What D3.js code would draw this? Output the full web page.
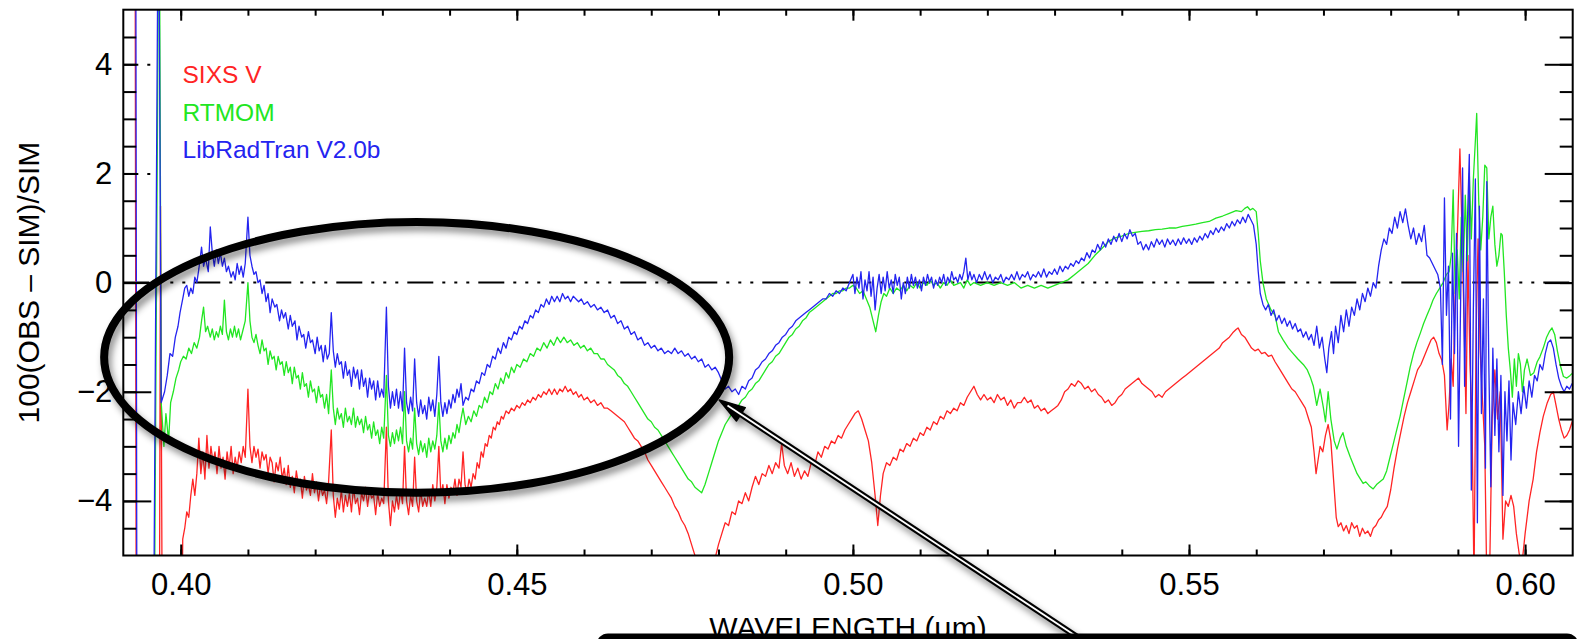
<!DOCTYPE html>
<html>
<head>
<meta charset="utf-8">
<script src="https://cdn.jsdelivr.net/npm/d3@7"></script>
<style>
  html, body { margin: 0; padding: 0; background: #fff; }
  svg { display: block; font-family: "Liberation Sans", Arial, Helvetica, sans-serif; }
</style>
</head>
<body>
<svg id="chart" width="1581" height="639"></svg>
<script>
// ---- axis ticks -------------------------------------------------------
const wavelengthTicks = [0.40, 0.45, 0.50, 0.55, 0.60];
const wavelengthMinorTicks = [0.40, 0.41, 0.42, 0.43, 0.44, 0.45, 0.46, 0.47, 0.48, 0.49, 0.50,
  0.51, 0.52, 0.53, 0.54, 0.55, 0.56, 0.57, 0.58, 0.59, 0.60];
const ratioTicks = [-4, -2, 0, 2, 4];
const ratioMinorTicks = [-4.5, -4, -3.5, -3, -2.5, -2, -1.5, -1, -0.5, 0, 0.5, 1, 1.5, 2, 2.5, 3, 3.5, 4, 4.5];

// ---- series: [wavelength (um), 100(OBS - SIM)/SIM] -------------------
const seriesNames = ["SIXS V", "RTMOM", "LibRadTran V2.0b"];

const sixsV = [
[0.3932,8],[0.3934,-8],[0.3968,-8],[0.3970,1.4],[0.3973,-8],[0.4001,-8],
[0.4003,-4.7],[0.4006,-4.5],[0.4009,-4.2],[0.4012,-4.3],[0.4015,-3.9],[0.4018,-3.6],[0.4021,-3.9],[0.4024,-3.5],[0.4027,-2.85],[0.4030,-3.5],
[0.4033,-3.1],[0.4036,-3.6],[0.4039,-2.8],[0.4042,-3.4],[0.4045,-3.0],[0.4048,-3.3],[0.4051,-3.1],[0.4054,-3.5],[0.4057,-3.0],[0.4060,-3.4],
[0.4063,-3.2],[0.4066,-3.6],[0.4069,-3.1],[0.4072,-3.4],[0.4075,-3.0],[0.4078,-3.5],[0.4081,-3.2],[0.4084,-3.4],[0.4087,-3.1],[0.4090,-3.3],
[0.4093,-3.0],[0.4096,-3.2],[0.4100,-1.95],[0.4103,-3.0],[0.4106,-3.3],[0.4109,-3.0],[0.4112,-3.2],[0.4115,-3.05],[0.4118,-3.4],[0.4121,-3.1],
[0.4124,-3.25],[0.4127,-3.15],[0.4130,-3.5],[0.4133,-3.2],[0.4136,-3.3],[0.4139,-3.65],[0.4142,-3.3],[0.4145,-3.45],[0.4148,-3.2],[0.4151,-3.6],
[0.4154,-3.4],[0.4157,-3.7],[0.4160,-3.35],[0.4163,-3.75],[0.4166,-3.55],[0.4169,-3.85],[0.4172,-3.45],[0.4175,-3.7],[0.4178,-3.6],[0.4181,-3.95],
[0.4184,-3.55],[0.4187,-3.8],[0.4190,-3.7],[0.4193,-3.9],[0.4196,-3.5],[0.4199,-3.85],[0.4202,-3.65],[0.4205,-4.0],[0.4208,-3.7],[0.4211,-3.9],
[0.4214,-3.8],[0.4217,-4.05],[0.4220,-3.65],[0.4224,-2.7],[0.4227,-3.9],[0.4230,-4.3],[0.4233,-3.95],[0.4236,-4.15],[0.4239,-3.8],[0.4242,-4.2],
[0.4245,-3.9],[0.4248,-4.1],[0.4251,-3.85],[0.4254,-4.2],[0.4257,-3.75],[0.4260,-4.05],[0.4263,-3.95],[0.4266,-4.25],[0.4269,-3.85],[0.4272,-4.0],
[0.4275,-3.75],[0.4278,-4.1],[0.4281,-3.8],[0.4284,-3.95],[0.4287,-3.9],[0.4290,-4.25],[0.4293,-3.85],[0.4296,-4.1],[0.4299,-3.95],[0.4302,-4.05],
[0.4306,-2.65],[0.4309,-4.0],[0.4312,-4.45],[0.4315,-4.0],[0.4318,-4.2],[0.4321,-3.9],[0.4324,-4.15],[0.4327,-3.8],[0.4330,-4.05],[0.4333,-3.0],
[0.4336,-4.0],[0.4339,-4.25],[0.4342,-3.9],[0.4345,-4.1],[0.4348,-3.2],[0.4351,-4.0],[0.4354,-4.2],[0.4357,-3.8],[0.4360,-4.1],[0.4363,-3.95],
[0.4366,-4.1],[0.4369,-3.8],[0.4372,-4.1],[0.4375,-3.7],[0.4378,-4.0],[0.4381,-3.75],[0.4384,-3.0],[0.4387,-3.9],[0.4390,-3.7],[0.4393,-4.05],
[0.4396,-3.7],[0.4399,-3.95],[0.4402,-3.75],[0.4405,-3.85],[0.4408,-3.6],[0.4411,-3.9],[0.4414,-3.6],[0.4417,-3.75],[0.4420,-3.1],[0.4423,-3.7],
[0.4426,-3.85],[0.4429,-3.6],[0.4432,-3.75],[0.4435,-3.5],[0.4438,-3.6],[0.4441,-3.3],[0.4444,-3.4],[0.4447,-3.1],[0.4450,-3.2],[0.4453,-2.95],
[0.4456,-3.0],[0.4459,-2.8],[0.4462,-2.85],[0.4465,-2.65],[0.4468,-2.7],[0.4471,-2.55],[0.4474,-2.6],[0.4477,-2.45],[0.4480,-2.5],[0.4484,-2.35],
[0.4488,-2.4],[0.4492,-2.3],[0.4496,-2.35],[0.4500,-2.25],[0.4504,-2.3],[0.4508,-2.2],[0.4512,-2.25],[0.4516,-2.15],[0.4520,-2.2],[0.4524,-2.1],
[0.4528,-2.15],[0.4532,-2.05],[0.4536,-2.1],[0.4540,-2.0],[0.4544,-2.05],[0.4548,-1.95],[0.4552,-2.05],[0.4556,-1.95],[0.4560,-2.05],[0.4564,-1.95],
[0.4568,-2.0],[0.4572,-1.9],[0.4576,-2.0],[0.4580,-1.95],[0.4584,-2.05],[0.4588,-2.0],[0.4592,-2.1],[0.4596,-2.05],[0.4600,-2.15],[0.4605,-2.1],
[0.4610,-2.2],[0.4615,-2.15],[0.4620,-2.25],[0.4625,-2.2],[0.4630,-2.3],[0.4635,-2.3],[0.4640,-2.35],[0.4645,-2.4],[0.4650,-2.45],[0.4655,-2.5],
[0.4660,-2.55],[0.4665,-2.65],[0.4670,-2.75],[0.4675,-2.85],[0.4680,-2.9],[0.4685,-3.0],[0.4690,-3.1],[0.4695,-3.25],[0.4700,-3.35],[0.4705,-3.45],
[0.4710,-3.55],[0.4715,-3.65],[0.4720,-3.75],[0.4725,-3.85],[0.4730,-3.95],[0.4735,-4.1],[0.4740,-4.2],[0.4745,-4.35],[0.4750,-4.45],[0.4755,-4.6],
[0.4760,-4.8],[0.4765,-5.0],[0.4770,-5.2],[0.4775,-5.35],[0.4780,-5.4],[0.4785,-5.35],[0.4790,-5.2],[0.4795,-5.05],[0.4800,-4.8],[0.4805,-4.6],
[0.4810,-4.4],[0.4815,-4.45],[0.4820,-4.2],[0.4825,-4.25],[0.4830,-4.0],[0.4835,-4.05],[0.4840,-3.85],[0.4845,-4.0],[0.4850,-3.75],[0.4855,-3.55],
[0.4860,-3.7],[0.4865,-3.5],[0.4870,-3.55],[0.4875,-3.35],[0.4880,-3.5],[0.4885,-3.3],[0.4890,-3.4],[0.4894,-2.95],[0.4898,-3.35],[0.4903,-3.5],
[0.4908,-3.3],[0.4913,-3.55],[0.4918,-3.4],[0.4923,-3.6],[0.4928,-3.45],[0.4933,-3.55],[0.4938,-3.3],[0.4943,-3.35],[0.4948,-3.1],[0.4953,-3.2],
[0.4958,-3.0],[0.4963,-3.05],[0.4968,-2.9],[0.4973,-2.95],[0.4978,-2.8],[0.4983,-2.85],[0.4988,-2.7],[0.4993,-2.6],[0.4998,-2.5],[0.5003,-2.4],
[0.5008,-2.35],[0.5013,-2.5],[0.5018,-2.7],[0.5023,-2.9],[0.5028,-3.3],[0.5033,-3.9],[0.5037,-4.45],[0.5041,-3.9],[0.5045,-3.5],[0.5050,-3.3],
[0.5055,-3.35],[0.5060,-3.2],[0.5065,-3.25],[0.5070,-3.05],[0.5075,-3.1],[0.5080,-2.95],[0.5085,-3.0],[0.5090,-2.85],[0.5095,-2.9],[0.5100,-2.75],
[0.5105,-2.8],[0.5110,-2.65],[0.5115,-2.7],[0.5120,-2.55],[0.5125,-2.6],[0.5130,-2.45],[0.5135,-2.5],[0.5140,-2.35],[0.5145,-2.4],[0.5150,-2.3],
[0.5155,-2.35],[0.5160,-2.2],[0.5165,-2.25],[0.5170,-2.1],[0.5175,-2.0],[0.5180,-1.9],[0.5185,-2.05],[0.5190,-2.15],[0.5195,-2.05],[0.5200,-2.15],
[0.5205,-2.1],[0.5210,-2.2],[0.5215,-2.05],[0.5220,-2.15],[0.5225,-2.1],[0.5230,-2.25],[0.5235,-2.15],[0.5240,-2.3],[0.5245,-2.2],[0.5250,-2.2],
[0.5255,-2.1],[0.5260,-2.2],[0.5265,-2.15],[0.5270,-2.3],[0.5275,-2.25],[0.5280,-2.35],[0.5285,-2.3],[0.5290,-2.4],[0.5295,-2.35],[0.5300,-2.3],
[0.5305,-2.25],[0.5310,-2.15],[0.5315,-2.0],[0.5320,-1.95],[0.5325,-1.85],[0.5330,-1.9],[0.5335,-1.8],[0.5340,-1.85],[0.5345,-1.95],[0.5350,-1.9],
[0.5355,-2.0],[0.5360,-1.95],[0.5365,-2.05],[0.5370,-2.1],[0.5375,-2.2],[0.5380,-2.15],[0.5385,-2.25],[0.5390,-2.2],[0.5395,-2.1],[0.5400,-2.05],
[0.5405,-1.95],[0.5410,-1.9],[0.5415,-1.85],[0.5420,-1.8],[0.5425,-1.75],[0.5430,-1.85],[0.5435,-1.9],[0.5440,-1.95],[0.5445,-2.0],[0.5450,-2.1],
[0.5455,-2.05],[0.5460,-2.1],[0.5465,-2.0],[0.5470,-1.95],[0.5475,-1.9],[0.5480,-1.85],[0.5485,-1.8],[0.5490,-1.75],[0.5495,-1.7],[0.5500,-1.65],
[0.5505,-1.6],[0.5510,-1.55],[0.5515,-1.5],[0.5520,-1.45],[0.5525,-1.4],[0.5530,-1.35],[0.5535,-1.3],[0.5540,-1.25],[0.5545,-1.2],[0.5550,-1.1],
[0.5555,-1.05],[0.5560,-1.0],[0.5565,-0.92],[0.5570,-0.86],[0.5573,-0.83],[0.5578,-0.95],[0.5583,-1.0],[0.5588,-1.1],[0.5593,-1.2],[0.5598,-1.25],
[0.5603,-1.22],[0.5608,-1.3],[0.5613,-1.28],[0.5618,-1.35],[0.5623,-1.33],[0.5628,-1.45],[0.5633,-1.55],[0.5638,-1.65],[0.5643,-1.75],[0.5648,-1.85],
[0.5653,-1.95],[0.5658,-2.0],[0.5663,-2.1],[0.5668,-2.2],[0.5673,-2.3],[0.5678,-2.5],[0.5682,-2.65],[0.5686,-3.1],[0.5689,-3.5],[0.5692,-3.25],
[0.5695,-3.0],[0.5699,-3.1],[0.5703,-2.8],[0.5707,-2.6],[0.5711,-2.9],[0.5715,-3.6],[0.5719,-4.3],[0.5722,-4.47],[0.5726,-4.4],[0.5730,-4.55],
[0.5734,-4.45],[0.5738,-4.6],[0.5742,-4.4],[0.5746,-4.5],[0.5750,-4.45],[0.5754,-4.65],[0.5758,-4.5],[0.5762,-4.6],[0.5766,-4.55],[0.5770,-4.65],
[0.5774,-4.5],[0.5778,-4.45],[0.5782,-4.35],[0.5786,-4.3],[0.5790,-4.2],[0.5795,-4.1],[0.5800,-3.8],[0.5805,-3.4],[0.5810,-3.05],[0.5815,-2.75],
[0.5820,-2.45],[0.5825,-2.2],[0.5830,-2.0],[0.5835,-1.8],[0.5840,-1.6],[0.5845,-1.5],[0.5850,-1.35],[0.5855,-1.2],[0.5860,-1.05],[0.5864,-1.0],
[0.5868,-1.1],[0.5872,-1.3],[0.5876,-1.42],[0.5880,-1.7],[0.5884,-2.7],[0.5887,-2.2],[0.5890,-1.4],[0.5893,-1.9],[0.5896,-0.2],[0.5899,0.8],
[0.5903,2.45],[0.5906,1.0],[0.5909,-0.6],[0.5912,-2.4],[0.5915,0.5],[0.5918,-1.5],[0.5921,-2.5],[0.5924,-5.5],[0.5927,-1.0],[0.5930,0.8],
[0.5933,-1.2],[0.5936,-2.0],[0.5940,-3.0],[0.5943,-5.5],[0.5947,-5.5],[0.5951,-2.5],[0.5955,-1.6],[0.5959,-2.5],[0.5963,-2.0],[0.5967,-4.7],
[0.5971,-4.0],[0.5975,-4.1],[0.5979,-3.9],[0.5983,-4.1],[0.5987,-4.6],[0.5991,-4.95],[0.5995,-5.2],[0.6000,-4.6],[0.6006,-4.0],[0.6012,-3.6],
[0.6017,-3.1],[0.6022,-2.75],[0.6027,-2.45],[0.6033,-2.2],[0.6038,-2.05],[0.6042,-2.0],[0.6046,-2.25],[0.6050,-2.5],[0.6054,-2.7],[0.6058,-2.85],
[0.6062,-2.8],[0.6066,-2.7],[0.6070,-2.55],[0.6074,-2.5]
];

const rtmom = [
[0.3935,-8],[0.3960,-8],[0.3968,8],[0.3971,-2.2],[0.3975,-3.0],[0.3978,-2.4],[0.3982,-2.9],[0.3985,-2.2],[0.3989,-2.0],[0.3993,-1.75],
[0.3997,-1.6],[0.4000,-1.45],[0.4004,-1.35],[0.4008,-1.4],[0.4012,-1.2],[0.4016,-1.3],[0.4020,-1.1],[0.4024,-1.2],[0.4028,-1.0],[0.4031,-0.7],
[0.4034,-0.45],[0.4037,-0.9],[0.4040,-0.8],[0.4044,-1.0],[0.4047,-0.85],[0.4050,-1.05],[0.4053,-0.9],[0.4056,-1.0],[0.4059,-0.8],[0.4062,-0.95],
[0.4065,-0.32],[0.4068,-0.9],[0.4071,-1.05],[0.4074,-0.85],[0.4077,-1.0],[0.4080,-0.8],[0.4083,-1.0],[0.4086,-0.85],[0.4089,-1.05],[0.4092,-0.9],
[0.4096,-0.7],[0.4100,0.0],[0.4103,-0.7],[0.4106,-1.0],[0.4109,-1.1],[0.4112,-0.95],[0.4115,-1.15],[0.4118,-1.3],[0.4121,-1.05],[0.4124,-1.25],
[0.4127,-1.2],[0.4130,-1.5],[0.4133,-1.25],[0.4136,-1.4],[0.4139,-1.35],[0.4142,-1.6],[0.4145,-1.35],[0.4148,-1.5],[0.4151,-1.45],[0.4154,-1.7],
[0.4157,-1.45],[0.4160,-1.65],[0.4163,-1.55],[0.4166,-1.85],[0.4169,-1.55],[0.4172,-1.75],[0.4175,-1.7],[0.4178,-1.95],[0.4181,-1.65],[0.4184,-1.9],
[0.4187,-1.85],[0.4190,-2.1],[0.4193,-1.8],[0.4196,-2.0],[0.4199,-1.95],[0.4202,-2.2],[0.4205,-1.9],[0.4208,-2.1],[0.4211,-2.05],[0.4214,-2.3],
[0.4217,-2.05],[0.4220,-2.4],[0.4224,-1.6],[0.4227,-2.3],[0.4230,-2.6],[0.4233,-2.3],[0.4236,-2.5],[0.4239,-2.4],[0.4242,-2.65],[0.4245,-2.3],
[0.4248,-2.55],[0.4251,-2.45],[0.4254,-2.6],[0.4257,-2.3],[0.4260,-2.65],[0.4263,-2.45],[0.4266,-2.6],[0.4269,-2.5],[0.4272,-2.75],[0.4275,-2.45],
[0.4278,-2.7],[0.4281,-2.6],[0.4284,-2.85],[0.4287,-2.55],[0.4290,-2.8],[0.4293,-2.7],[0.4296,-2.95],[0.4299,-2.65],[0.4302,-2.85],[0.4306,-1.7],
[0.4309,-2.8],[0.4312,-3.0],[0.4315,-2.75],[0.4318,-2.95],[0.4321,-2.7],[0.4324,-2.9],[0.4327,-2.65],[0.4330,-2.95],[0.4333,-2.0],[0.4336,-2.9],
[0.4339,-3.1],[0.4342,-2.85],[0.4345,-3.05],[0.4348,-2.3],[0.4351,-2.95],[0.4354,-3.15],[0.4357,-2.9],[0.4360,-3.1],[0.4363,-2.95],[0.4366,-3.2],
[0.4369,-2.85],[0.4372,-3.1],[0.4375,-2.9],[0.4378,-3.05],[0.4381,-2.8],[0.4384,-2.2],[0.4387,-2.9],[0.4390,-3.1],[0.4393,-2.85],[0.4396,-3.05],
[0.4399,-2.8],[0.4402,-2.95],[0.4405,-2.75],[0.4408,-2.85],[0.4411,-2.6],[0.4414,-2.75],[0.4417,-2.5],[0.4420,-2.3],[0.4424,-2.6],[0.4428,-2.45],
[0.4432,-2.55],[0.4436,-2.35],[0.4440,-2.45],[0.4444,-2.25],[0.4448,-2.3],[0.4452,-2.1],[0.4456,-2.2],[0.4460,-2.0],[0.4464,-2.05],[0.4468,-1.85],
[0.4472,-1.95],[0.4476,-1.75],[0.4480,-1.85],[0.4484,-1.65],[0.4488,-1.75],[0.4492,-1.55],[0.4496,-1.65],[0.4500,-1.5],[0.4505,-1.55],[0.4510,-1.4],
[0.4515,-1.45],[0.4520,-1.3],[0.4525,-1.35],[0.4530,-1.2],[0.4535,-1.25],[0.4540,-1.1],[0.4545,-1.2],[0.4550,-1.05],[0.4555,-1.15],[0.4560,-1.0],
[0.4565,-1.1],[0.4570,-1.0],[0.4575,-1.1],[0.4580,-1.05],[0.4585,-1.15],[0.4590,-1.1],[0.4595,-1.2],[0.4600,-1.15],[0.4605,-1.25],[0.4610,-1.2],
[0.4615,-1.3],[0.4620,-1.3],[0.4625,-1.4],[0.4630,-1.4],[0.4635,-1.5],[0.4640,-1.55],[0.4645,-1.6],[0.4650,-1.7],[0.4655,-1.75],[0.4660,-1.85],
[0.4665,-1.9],[0.4670,-2.0],[0.4675,-2.1],[0.4680,-2.2],[0.4685,-2.3],[0.4690,-2.4],[0.4695,-2.5],[0.4700,-2.55],[0.4705,-2.65],[0.4710,-2.7],
[0.4715,-2.8],[0.4720,-2.9],[0.4725,-3.0],[0.4730,-3.1],[0.4735,-3.2],[0.4740,-3.3],[0.4745,-3.4],[0.4750,-3.5],[0.4755,-3.6],[0.4760,-3.65],
[0.4765,-3.75],[0.4770,-3.8],[0.4775,-3.85],[0.4780,-3.7],[0.4785,-3.5],[0.4790,-3.3],[0.4795,-3.1],[0.4800,-2.9],[0.4805,-2.75],[0.4810,-2.6],
[0.4815,-2.5],[0.4820,-2.4],[0.4825,-2.3],[0.4830,-2.25],[0.4835,-2.15],[0.4840,-2.1],[0.4845,-2.0],[0.4850,-1.95],[0.4855,-1.85],[0.4860,-1.8],
[0.4865,-1.7],[0.4870,-1.6],[0.4875,-1.5],[0.4880,-1.45],[0.4885,-1.35],[0.4890,-1.3],[0.4895,-1.2],[0.4900,-1.1],[0.4905,-1.0],[0.4910,-0.95],
[0.4915,-0.85],[0.4920,-0.8],[0.4925,-0.7],[0.4930,-0.65],[0.4935,-0.55],[0.4940,-0.5],[0.4945,-0.45],[0.4950,-0.4],[0.4955,-0.35],[0.4960,-0.3],
[0.4965,-0.25],[0.4970,-0.2],[0.4975,-0.2],[0.4980,-0.15],[0.4985,-0.15],[0.4990,-0.1],[0.4995,-0.1],[0.5000,-0.05],[0.5005,-0.1],[0.5010,-0.2],
[0.5015,-0.15],[0.5020,-0.3],[0.5025,-0.45],[0.5030,-0.7],[0.5034,-0.9],[0.5038,-0.6],[0.5042,-0.35],[0.5046,-0.2],[0.5050,-0.25],[0.5055,-0.1],
[0.5060,-0.2],[0.5065,-0.1],[0.5070,-0.15],[0.5075,-0.05],[0.5080,-0.15],[0.5085,-0.05],[0.5090,-0.1],[0.5095,0.0],[0.5100,-0.1],[0.5105,0.0],
[0.5110,-0.05],[0.5115,0.05],[0.5120,-0.05],[0.5125,0.0],[0.5130,-0.1],[0.5135,0.0],[0.5140,-0.05],[0.5145,0.05],[0.5150,-0.05],[0.5160,0.0],
[0.5165,-0.1],[0.5170,0.05],[0.5175,-0.05],[0.5180,0.0],[0.5190,-0.05],[0.5200,0.0],[0.5210,-0.05],[0.5220,0.0],[0.5230,-0.05],[0.5240,0.0],
[0.5250,-0.1],[0.5260,-0.05],[0.5270,-0.1],[0.5280,-0.05],[0.5290,-0.1],[0.5300,-0.05],[0.5310,0.0],[0.5320,0.05],[0.5330,0.15],[0.5340,0.25],
[0.5350,0.35],[0.5360,0.5],[0.5370,0.62],[0.5380,0.75],[0.5390,0.82],[0.5400,0.85],[0.5410,0.9],[0.5420,0.92],[0.5430,0.94],[0.5440,0.95],
[0.5450,0.97],[0.5460,0.98],[0.5470,1.0],[0.5480,1.0],[0.5490,1.03],[0.5500,1.05],[0.5510,1.07],[0.5520,1.1],[0.5530,1.12],[0.5540,1.18],
[0.5550,1.22],[0.5560,1.27],[0.5570,1.32],[0.5578,1.3],[0.5583,1.36],[0.5587,1.39],[0.5591,1.33],[0.5595,1.36],[0.5600,1.3],[0.5603,0.9],
[0.5606,0.4],[0.5610,0.0],[0.5615,-0.3],[0.5622,-0.5],[0.5628,-0.6],[0.5633,-0.9],[0.5640,-1.05],[0.5648,-1.2],[0.5655,-1.3],[0.5662,-1.4],
[0.5670,-1.5],[0.5676,-1.6],[0.5681,-1.75],[0.5685,-1.9],[0.5690,-2.25],[0.5695,-1.95],[0.5700,-2.3],[0.5703,-2.55],[0.5707,-2.0],[0.5711,-2.5],
[0.5716,-2.9],[0.5720,-3.05],[0.5725,-2.85],[0.5729,-2.75],[0.5734,-3.0],[0.5740,-3.2],[0.5745,-3.35],[0.5750,-3.5],[0.5755,-3.6],[0.5759,-3.68],
[0.5763,-3.65],[0.5768,-3.72],[0.5774,-3.78],[0.5779,-3.7],[0.5784,-3.65],[0.5789,-3.6],[0.5794,-3.45],[0.5799,-3.2],[0.5804,-2.95],[0.5809,-2.7],
[0.5814,-2.45],[0.5819,-2.15],[0.5824,-1.85],[0.5829,-1.55],[0.5834,-1.3],[0.5839,-1.1],[0.5844,-0.93],[0.5849,-0.75],[0.5854,-0.6],[0.5859,-0.45],
[0.5863,-0.32],[0.5868,-0.2],[0.5873,-0.1],[0.5878,0.0],[0.5883,0.15],[0.5887,0.2],[0.5890,0.5],[0.5893,1.7],[0.5896,-0.2],[0.5899,0.6],
[0.5902,-0.3],[0.5905,1.2],[0.5908,0.2],[0.5911,1.6],[0.5914,0.4],[0.5917,2.0],[0.5920,0.8],[0.5923,1.9],[0.5926,2.6],[0.5928,3.1],
[0.5931,1.5],[0.5934,0.6],[0.5937,1.2],[0.5940,2.15],[0.5943,2.1],[0.5946,0.8],[0.5949,1.2],[0.5952,1.4],[0.5955,0.7],[0.5958,0.3],
[0.5961,0.5],[0.5964,0.9],[0.5966,0.87],[0.5969,0.2],[0.5972,-0.6],[0.5975,-1.2],[0.5978,-1.6],[0.5981,-2.1],[0.5984,-1.4],[0.5987,-1.9],
[0.5990,-1.3],[0.5993,-1.5],[0.5996,-2.0],[0.5999,-1.6],[0.6003,-1.4],[0.6008,-1.7],[0.6013,-1.65],[0.6018,-1.45],[0.6022,-1.36],[0.6027,-1.2],
[0.6032,-1.0],[0.6036,-0.9],[0.6040,-0.83],[0.6044,-0.95],[0.6048,-1.25],[0.6052,-1.5],[0.6057,-1.72],[0.6062,-1.75],[0.6067,-1.7],[0.6072,-1.64]
];

const libRadTran = [
[0.3933,8],[0.3935,-8],[0.3959,-8],[0.3967,8],[0.3971,-2.2],[0.3976,-2.0],[0.3980,-1.7],[0.3984,-1.3],[0.3988,-1.35],[0.3992,-1.0],
[0.3996,-0.8],[0.3999,-0.55],[0.4003,-0.3],[0.4006,-0.1],[0.4009,-0.05],[0.4012,-0.25],[0.4015,-0.1],[0.4018,-0.2],[0.4021,0.1],[0.4024,0.0],
[0.4027,0.25],[0.4031,0.65],[0.4034,0.3],[0.4037,0.45],[0.4041,0.2],[0.4044,1.02],[0.4047,0.55],[0.4050,0.3],[0.4053,0.6],[0.4056,0.35],
[0.4059,0.55],[0.4062,0.3],[0.4065,0.45],[0.4068,0.2],[0.4071,0.3],[0.4075,0.1],[0.4078,0.2],[0.4081,0.05],[0.4084,0.35],[0.4087,0.15],
[0.4090,0.3],[0.4093,0.1],[0.4096,0.35],[0.4100,1.2],[0.4103,0.5],[0.4106,0.3],[0.4109,0.15],[0.4112,0.2],[0.4115,0.0],[0.4118,0.05],
[0.4121,-0.2],[0.4124,-0.05],[0.4127,-0.35],[0.4130,-0.2],[0.4133,-0.55],[0.4136,-0.3],[0.4140,-0.45],[0.4143,-0.4],[0.4147,-0.7],[0.4150,-0.5],
[0.4153,-0.65],[0.4156,-0.55],[0.4160,-0.85],[0.4163,-0.6],[0.4166,-0.8],[0.4170,-0.7],[0.4173,-1.05],[0.4176,-0.8],[0.4180,-1.0],[0.4183,-0.95],
[0.4186,-1.2],[0.4190,-0.9],[0.4193,-1.1],[0.4196,-1.05],[0.4200,-1.3],[0.4203,-1.0],[0.4206,-1.25],[0.4209,-1.15],[0.4212,-1.45],[0.4215,-1.15],
[0.4218,-1.4],[0.4221,-1.3],[0.4224,-0.55],[0.4227,-1.25],[0.4230,-1.55],[0.4233,-1.3],[0.4236,-1.5],[0.4239,-1.45],[0.4242,-1.75],[0.4245,-1.45],
[0.4248,-1.7],[0.4251,-1.6],[0.4254,-1.9],[0.4257,-1.55],[0.4260,-1.75],[0.4263,-1.6],[0.4266,-1.95],[0.4269,-1.6],[0.4272,-1.9],[0.4275,-1.75],
[0.4278,-2.1],[0.4281,-1.75],[0.4284,-1.95],[0.4287,-1.8],[0.4290,-2.15],[0.4293,-1.8],[0.4296,-2.1],[0.4299,-1.95],[0.4302,-2.1],[0.4306,-0.45],
[0.4309,-1.9],[0.4312,-2.3],[0.4315,-2.0],[0.4318,-2.25],[0.4321,-1.95],[0.4324,-2.3],[0.4327,-2.0],[0.4330,-2.35],[0.4333,-1.2],[0.4336,-2.2],
[0.4339,-2.4],[0.4342,-2.1],[0.4345,-2.35],[0.4348,-1.4],[0.4351,-2.2],[0.4354,-2.45],[0.4357,-2.15],[0.4360,-2.4],[0.4363,-2.25],[0.4366,-2.5],
[0.4369,-2.1],[0.4372,-2.35],[0.4375,-2.15],[0.4378,-2.45],[0.4381,-2.05],[0.4384,-1.35],[0.4387,-2.2],[0.4390,-2.45],[0.4393,-2.2],[0.4396,-2.4],
[0.4399,-2.15],[0.4402,-2.3],[0.4405,-2.05],[0.4408,-2.2],[0.4411,-1.95],[0.4414,-2.1],[0.4417,-1.85],[0.4420,-2.25],[0.4424,-2.1],[0.4428,-2.15],
[0.4432,-1.95],[0.4436,-2.0],[0.4440,-1.8],[0.4444,-1.85],[0.4448,-1.65],[0.4452,-1.7],[0.4456,-1.5],[0.4460,-1.55],[0.4464,-1.35],[0.4468,-1.4],
[0.4472,-1.2],[0.4476,-1.3],[0.4480,-1.1],[0.4484,-1.2],[0.4488,-1.0],[0.4492,-1.05],[0.4496,-0.9],[0.4500,-0.95],[0.4504,-0.8],[0.4508,-0.85],
[0.4512,-0.7],[0.4516,-0.75],[0.4520,-0.6],[0.4524,-0.65],[0.4528,-0.5],[0.4532,-0.55],[0.4536,-0.4],[0.4540,-0.45],[0.4544,-0.3],[0.4548,-0.4],
[0.4552,-0.25],[0.4556,-0.35],[0.4560,-0.25],[0.4564,-0.35],[0.4568,-0.2],[0.4572,-0.3],[0.4576,-0.25],[0.4580,-0.35],[0.4584,-0.25],[0.4588,-0.3],
[0.4592,-0.35],[0.4596,-0.3],[0.4600,-0.4],[0.4605,-0.35],[0.4610,-0.45],[0.4615,-0.4],[0.4620,-0.5],[0.4625,-0.45],[0.4630,-0.55],[0.4635,-0.5],
[0.4640,-0.65],[0.4645,-0.6],[0.4650,-0.75],[0.4655,-0.7],[0.4660,-0.85],[0.4665,-0.8],[0.4670,-0.95],[0.4675,-0.9],[0.4680,-1.05],[0.4685,-1.0],
[0.4690,-1.15],[0.4695,-1.1],[0.4700,-1.2],[0.4705,-1.15],[0.4710,-1.25],[0.4715,-1.2],[0.4720,-1.3],[0.4725,-1.25],[0.4730,-1.3],[0.4735,-1.2],
[0.4740,-1.3],[0.4745,-1.25],[0.4750,-1.35],[0.4755,-1.3],[0.4760,-1.4],[0.4765,-1.35],[0.4770,-1.45],[0.4775,-1.4],[0.4780,-1.55],[0.4785,-1.5],
[0.4790,-1.6],[0.4795,-1.55],[0.4800,-1.65],[0.4805,-1.8],[0.4810,-1.95],[0.4815,-1.9],[0.4820,-2.0],[0.4825,-1.95],[0.4830,-2.05],[0.4835,-1.9],
[0.4840,-1.95],[0.4845,-1.8],[0.4850,-1.75],[0.4855,-1.6],[0.4860,-1.55],[0.4865,-1.45],[0.4870,-1.4],[0.4875,-1.3],[0.4880,-1.25],[0.4885,-1.15],
[0.4890,-1.1],[0.4895,-1.0],[0.4900,-0.95],[0.4905,-0.85],[0.4910,-0.8],[0.4915,-0.7],[0.4920,-0.65],[0.4925,-0.6],[0.4930,-0.55],[0.4935,-0.5],
[0.4940,-0.45],[0.4945,-0.4],[0.4950,-0.35],[0.4955,-0.3],[0.4960,-0.3],[0.4965,-0.2],[0.4970,-0.25],[0.4975,-0.15],[0.4980,-0.2],[0.4985,-0.1],
[0.4990,-0.15],[0.4995,0.0],[0.5000,0.15],[0.5003,-0.2],[0.5006,0.1],[0.5009,-0.1],[0.5012,0.2],[0.5015,-0.3],[0.5018,0.05],[0.5021,-0.15],
[0.5024,0.2],[0.5027,-0.25],[0.5030,0.1],[0.5033,-0.5],[0.5036,-0.1],[0.5039,0.15],[0.5042,-0.2],[0.5045,0.1],[0.5048,-0.15],[0.5051,0.2],
[0.5054,-0.1],[0.5057,0.05],[0.5060,-0.2],[0.5063,0.15],[0.5066,-0.05],[0.5069,0.1],[0.5072,-0.3],[0.5075,0.0],[0.5078,-0.2],[0.5081,0.1],
[0.5084,-0.1],[0.5087,0.15],[0.5090,-0.05],[0.5093,0.1],[0.5096,-0.1],[0.5099,0.05],[0.5102,-0.15],[0.5105,0.1],[0.5108,-0.05],[0.5111,0.15],
[0.5114,0.0],[0.5117,0.1],[0.5120,-0.1],[0.5123,0.05],[0.5126,-0.05],[0.5129,0.1],[0.5132,0.0],[0.5135,0.15],[0.5138,-0.05],[0.5141,0.1],
[0.5144,0.0],[0.5147,0.2],[0.5150,0.05],[0.5153,0.1],[0.5156,0.0],[0.5159,0.15],[0.5162,0.05],[0.5165,0.2],[0.5168,0.45],[0.5171,0.05],
[0.5174,0.2],[0.5177,0.05],[0.5180,0.15],[0.5184,0.0],[0.5188,0.15],[0.5192,0.05],[0.5196,0.2],[0.5200,0.05],[0.5204,0.15],[0.5208,0.0],
[0.5212,0.1],[0.5216,0.05],[0.5220,0.15],[0.5224,0.0],[0.5228,0.1],[0.5232,0.05],[0.5236,0.15],[0.5240,0.05],[0.5244,0.2],[0.5248,0.05],
[0.5252,0.15],[0.5256,0.1],[0.5260,0.2],[0.5264,0.05],[0.5268,0.15],[0.5272,0.1],[0.5276,0.2],[0.5280,0.1],[0.5284,0.25],[0.5288,0.1],
[0.5292,0.2],[0.5296,0.15],[0.5300,0.25],[0.5304,0.15],[0.5308,0.3],[0.5312,0.2],[0.5316,0.3],[0.5320,0.25],[0.5324,0.35],[0.5328,0.3],
[0.5332,0.4],[0.5336,0.35],[0.5340,0.45],[0.5344,0.4],[0.5348,0.55],[0.5352,0.45],[0.5356,0.6],[0.5360,0.55],[0.5364,0.7],[0.5368,0.6],
[0.5372,0.75],[0.5376,0.65],[0.5380,0.8],[0.5384,0.7],[0.5388,0.85],[0.5392,0.75],[0.5396,0.9],[0.5400,0.75],[0.5404,0.9],[0.5408,0.8],
[0.5412,0.97],[0.5416,0.85],[0.5420,0.9],[0.5424,0.7],[0.5428,0.75],[0.5432,0.6],[0.5436,0.7],[0.5440,0.6],[0.5444,0.75],[0.5448,0.65],
[0.5452,0.8],[0.5456,0.7],[0.5460,0.78],[0.5464,0.65],[0.5468,0.8],[0.5472,0.7],[0.5476,0.78],[0.5480,0.68],[0.5484,0.8],[0.5488,0.7],
[0.5492,0.82],[0.5496,0.72],[0.5500,0.8],[0.5504,0.7],[0.5508,0.82],[0.5512,0.74],[0.5516,0.85],[0.5520,0.78],[0.5524,0.9],[0.5528,0.82],
[0.5532,0.95],[0.5536,0.88],[0.5540,1.0],[0.5544,0.92],[0.5548,1.02],[0.5552,0.95],[0.5556,1.08],[0.5560,1.0],[0.5564,1.12],[0.5568,1.04],
[0.5572,1.15],[0.5576,1.08],[0.5580,1.2],[0.5584,1.1],[0.5588,1.25],[0.5592,1.15],[0.5596,1.05],[0.5600,0.7],[0.5603,0.2],[0.5606,-0.2],
[0.5610,-0.4],[0.5614,-0.5],[0.5618,-0.4],[0.5622,-0.6],[0.5626,-0.5],[0.5630,-0.7],[0.5634,-0.6],[0.5638,-0.75],[0.5642,-0.65],[0.5646,-0.8],
[0.5650,-0.7],[0.5654,-0.85],[0.5658,-0.75],[0.5662,-0.9],[0.5666,-0.85],[0.5670,-1.0],[0.5674,-0.9],[0.5678,-1.05],[0.5682,-0.95],[0.5686,-1.15],
[0.5690,-0.8],[0.5694,-1.2],[0.5698,-1.0],[0.5702,-1.4],[0.5705,-1.65],[0.5708,-1.2],[0.5712,-0.9],[0.5715,-1.3],[0.5718,-0.8],[0.5722,-1.1],
[0.5726,-0.6],[0.5730,-0.9],[0.5734,-0.5],[0.5738,-0.8],[0.5742,-0.45],[0.5746,-0.6],[0.5750,-0.3],[0.5754,-0.5],[0.5758,-0.2],[0.5762,-0.35],
[0.5766,-0.1],[0.5770,-0.25],[0.5774,0.0],[0.5778,-0.1],[0.5782,0.3],[0.5786,0.6],[0.5790,0.8],[0.5794,0.7],[0.5798,1.0],[0.5802,0.9],
[0.5806,1.2],[0.5810,1.0],[0.5814,1.3],[0.5818,1.1],[0.5822,1.35],[0.5826,1.05],[0.5830,0.8],[0.5834,1.0],[0.5838,0.7],[0.5842,0.9],
[0.5846,0.75],[0.5850,1.05],[0.5854,0.5],[0.5858,0.45],[0.5862,0.35],[0.5866,0.25],[0.5870,0.15],[0.5874,-0.1],[0.5877,-1.5],[0.5880,1.55],
[0.5883,-0.6],[0.5886,0.3],[0.5889,-2.5],[0.5892,0.54],[0.5895,-1.3],[0.5898,0.9],[0.5901,-3.0],[0.5904,-0.4],[0.5907,2.1],[0.5910,-1.9],
[0.5913,0.6],[0.5917,2.35],[0.5920,-3.8],[0.5923,-0.5],[0.5926,1.9],[0.5929,-4.4],[0.5932,1.4],[0.5935,-2.4],[0.5938,-0.3],[0.5941,-3.4],
[0.5943,1.85],[0.5946,-1.5],[0.5949,-3.74],[0.5952,-1.2],[0.5955,-2.8],[0.5958,-1.4],[0.5961,-3.1],[0.5964,-1.7],[0.5967,-3.9],[0.5970,-2.0],
[0.5973,-2.9],[0.5976,-1.8],[0.5979,-3.25],[0.5982,-2.2],[0.5986,-2.6],[0.5990,-2.0],[0.5994,-2.4],[0.5998,-1.9],[0.6002,-2.3],[0.6006,-1.8],
[0.6010,-2.1],[0.6014,-1.7],[0.6018,-1.8],[0.6022,-1.5],[0.6026,-1.6],[0.6030,-1.3],[0.6034,-1.1],[0.6038,-1.05],[0.6042,-1.2],[0.6046,-1.5],
[0.6050,-1.75],[0.6054,-1.9],[0.6058,-2.0],[0.6062,-1.9],[0.6066,-1.95],[0.6070,-1.85],[0.6074,-1.9]
];

const seriesColors = ["#ff2424", "#22e622", "#2424f0"];
const seriesData = [sixsV, rtmom, libRadTran];

// ---- layout --------------------------------------------------------------
const W = 1581, H = 639;
const frame = { left: 123.3, right: 1572.7, top: 9.7, bottom: 555.5 };
const font = '"Liberation Sans", Arial, Helvetica, sans-serif';

const x = d3.scaleLinear().domain([0.39146, 0.60708]).range([frame.left, frame.right]);
const y = d3.scaleLinear().domain([-5, 5]).range([frame.bottom, frame.top]);

const svg = d3.select("#chart");
const defs = svg.append("defs");
defs.append("clipPath").attr("id", "plotClip")
  .append("rect")
  .attr("x", frame.left).attr("y", frame.top)
  .attr("width", frame.right - frame.left).attr("height", frame.bottom - frame.top);

const shadow = defs.append("filter").attr("id", "softShadow")
  .attr("x", "-10%").attr("y", "-10%").attr("width", "130%").attr("height", "140%");
shadow.append("feDropShadow").attr("dx", 3).attr("dy", 5).attr("stdDeviation", 3.5)
  .attr("flood-color", "#000").attr("flood-opacity", 0.45);

svg.append("rect").attr("width", W).attr("height", H).attr("fill", "#fff");

// zero reference line
svg.append("line")
  .attr("x1", frame.left).attr("x2", frame.right)
  .attr("y1", y(0)).attr("y2", y(0))
  .attr("stroke", "#000").attr("stroke-width", 2)
  .attr("stroke-dasharray", "26 9 3 9 3 9 3 9");

// data curves
const line = d3.line().x(d => x(d[0])).y(d => y(d[1]));
const curves = svg.append("g").attr("clip-path", "url(#plotClip)");
seriesData.forEach((data, i) => {
  curves.append("path")
    .attr("d", line(data))
    .attr("fill", "none")
    .attr("stroke", seriesColors[i])
    .attr("stroke-width", 1.3)
    .attr("stroke-linejoin", "round");
});

// frame
svg.append("rect")
  .attr("x", frame.left).attr("y", frame.top)
  .attr("width", frame.right - frame.left).attr("height", frame.bottom - frame.top)
  .attr("fill", "none").attr("stroke", "#000").attr("stroke-width", 2);

// axes (ticks point inward)
function styleAxis(g, size) {
  g.select(".domain").remove();
  g.selectAll(".tick line").attr("stroke", "#000").attr("stroke-width", 2);
  g.attr("font-family", font).attr("font-size", size);
  g.selectAll("text").attr("fill", "#000");
}
svg.append("g").attr("transform", `translate(0,${frame.bottom})`)
  .call(d3.axisBottom(x).tickValues(wavelengthMinorTicks).tickSize(-6).tickFormat(""))
  .call(g => styleAxis(g, 31));
svg.append("g").attr("transform", `translate(0,${frame.bottom})`)
  .call(d3.axisBottom(x).tickValues(wavelengthTicks).tickSize(-11).tickPadding(17).tickFormat(d3.format(".2f")))
  .call(g => styleAxis(g, 31));
svg.append("g").attr("transform", `translate(0,${frame.top})`)
  .call(d3.axisTop(x).tickValues(wavelengthMinorTicks).tickSize(-6).tickFormat(""))
  .call(g => styleAxis(g, 31));
svg.append("g").attr("transform", `translate(0,${frame.top})`)
  .call(d3.axisTop(x).tickValues(wavelengthTicks).tickSize(-11).tickFormat(""))
  .call(g => styleAxis(g, 31));
svg.append("g").attr("transform", `translate(${frame.left},0)`)
  .call(d3.axisLeft(y).tickValues(ratioMinorTicks).tickSize(-13).tickFormat(""))
  .call(g => styleAxis(g, 31));
svg.append("g").attr("transform", `translate(${frame.left},0)`)
  .call(d3.axisLeft(y).tickValues(ratioTicks).tickSize(-28).tickPadding(11).tickFormat(d3.format("d")))
  .call(g => styleAxis(g, 31))
  // the two upper major ticks on the left are drawn broken (tick + dot)
  .call(g => g.selectAll(".tick").filter(d => d > 0).select("line")
    .attr("stroke-dasharray", "15 9 3 40"));
svg.append("g").attr("transform", `translate(${frame.right},0)`)
  .call(d3.axisRight(y).tickValues(ratioMinorTicks).tickSize(-13).tickFormat(""))
  .call(g => styleAxis(g, 31));
svg.append("g").attr("transform", `translate(${frame.right},0)`)
  .call(d3.axisRight(y).tickValues(ratioTicks).tickSize(-28).tickFormat(""))
  .call(g => styleAxis(g, 31));

// axis titles
svg.append("text")
  .attr("transform", `translate(39,${(frame.top + frame.bottom) / 2}) rotate(-90)`)
  .attr("text-anchor", "middle")
  .attr("font-family", font).attr("font-size", 30).attr("fill", "#000")
  .text("100(OBS \u2013 SIM)/SIM");
svg.append("text")
  .attr("x", (frame.left + frame.right) / 2).attr("y", 638)
  .attr("text-anchor", "middle")
  .attr("font-family", font).attr("font-size", 30).attr("fill", "#000")
  .text("WAVELENGTH (\u03bcm)");

// legend
const legendBaselines = [83, 121, 158];
seriesNames.forEach((name, i) => {
  svg.append("text")
    .attr("x", 182.5).attr("y", legendBaselines[i])
    .attr("font-family", font).attr("font-size", 24.5)
    .attr("fill", seriesColors[i])
    .text(name);
});

// ---- annotation: ellipse, arrow and caption box -------------------------
const focusCentre = [0.4351, -1.37];
const focusHalfWidth = 0.04649, focusHalfHeight = 2.48;
svg.append("ellipse")
  .attr("cx", x(focusCentre[0])).attr("cy", y(focusCentre[1]))
  .attr("rx", x(focusCentre[0] + focusHalfWidth) - x(focusCentre[0]))
  .attr("ry", y(focusCentre[1] - focusHalfHeight) - y(focusCentre[1]))
  .attr("fill", "none").attr("stroke", "#000").attr("stroke-width", 8)
  .attr("filter", "url(#softShadow)");

const arrowTip = [x(0.4801), y(-2.15)];
const arrowTail = [1094, 648];
const dx = arrowTail[0] - arrowTip[0], dy = arrowTail[1] - arrowTip[1];
const len = Math.hypot(dx, dy), ux = dx / len, uy = dy / len;
const headLen = 26, headHalf = 8;
const base = [arrowTip[0] + ux * headLen, arrowTip[1] + uy * headLen];
const arrow = svg.append("g").attr("filter", "url(#softShadow)");
arrow.append("line")
  .attr("x1", base[0]).attr("y1", base[1]).attr("x2", arrowTail[0]).attr("y2", arrowTail[1])
  .attr("stroke", "#000").attr("stroke-width", 6);
arrow.append("path")
  .attr("d", `M${arrowTip[0]},${arrowTip[1]}L${base[0] - uy * headHalf},${base[1] + ux * headHalf}L${base[0] + uy * headHalf},${base[1] - ux * headHalf}Z`)
  .attr("fill", "#000").attr("stroke", "#000").attr("stroke-width", 1.5).attr("stroke-linejoin", "round");
svg.append("line")
  .attr("x1", arrowTip[0] + ux * 10).attr("y1", arrowTip[1] + uy * 10)
  .attr("x2", arrowTail[0]).attr("y2", arrowTail[1])
  .attr("stroke", "#fff").attr("stroke-width", 1.8);

svg.append("rect")
  .attr("x", 600).attr("y", 637).attr("width", 975).attr("height", 40).attr("rx", 8)
  .attr("fill", "#fff").attr("stroke", "#000").attr("stroke-width", 7);
</script>
</body>
</html>
